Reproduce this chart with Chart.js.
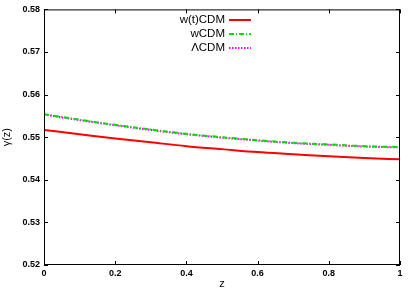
<!DOCTYPE html>
<html>
<head>
<meta charset="utf-8">
<script src="https://cdn.jsdelivr.net/npm/chart.js@4/dist/chart.umd.min.js"></script>
<style>
  html, body { margin: 0; padding: 0; background: #fff; }
  canvas { display: block; }
</style>
</head>
<body>
<canvas id="c" width="415" height="291"></canvas>
<script>
// values
const zValues = [0, 0.1, 0.2, 0.3, 0.4, 0.5, 0.6, 0.7, 0.8, 0.9, 1.0];
const gammaWtCDM = [0.5517, 0.5507, 0.5497, 0.5488, 0.5479, 0.5472, 0.5465, 0.5460, 0.5455, 0.5451, 0.5448];
const gammaWCDM  = [0.5554, 0.5541, 0.5529, 0.5518, 0.5508, 0.5500, 0.5493, 0.5487, 0.5483, 0.5479, 0.5477];
const gammaLCDM  = [0.5553, 0.5540, 0.5528, 0.5517, 0.5507, 0.5499, 0.5492, 0.5486, 0.5482, 0.5478, 0.5476];
const seriesNames = ['w(t)CDM', 'wCDM', '\u039BCDM'];
const xTicks = [0, 0.2, 0.4, 0.6, 0.8, 1];
const yTicks = [0.52, 0.53, 0.54, 0.55, 0.56, 0.57, 0.58];

const toPoints = ys => zValues.map((z, i) => ({ x: z, y: ys[i] }));
const fam = 'Liberation Sans, Arial, sans-serif';
const tickFont = { family: fam, size: 9, weight: 'bold' };

// inward ticks on all four sides, frame, and the gnuplot-style key
const frameTicks = {
    id: 'frameTicks',
    afterDraw(chart) {
        const ctx = chart.ctx;
        const a = chart.chartArea;
        const xs = chart.scales.x, ys = chart.scales.y;
        ctx.save();
        ctx.strokeStyle = '#000';
        ctx.lineWidth = 1;
        ctx.strokeRect(a.left + 0.5, a.top + 0.5, a.right - a.left - 1, a.bottom - a.top - 1);
        ctx.beginPath();
        xTicks.forEach(v => {
            const px = Math.round(xs.getPixelForValue(v)) + 0.5;
            ctx.moveTo(px, a.bottom); ctx.lineTo(px, a.bottom - 4);
            ctx.moveTo(px, a.top); ctx.lineTo(px, a.top + 4);
        });
        yTicks.forEach(v => {
            const py = Math.round(ys.getPixelForValue(v)) + 0.5;
            ctx.moveTo(a.left, py); ctx.lineTo(a.left + 4, py);
            ctx.moveTo(a.right, py); ctx.lineTo(a.right - 4, py);
        });
        ctx.stroke();

        ctx.font = '11.5px ' + fam;
        ctx.textAlign = 'right';
        ctx.textBaseline = 'middle';
        chart.data.datasets.forEach((ds, i) => {
            const y = 20 + i * 14;
            ctx.fillStyle = '#000';
            ctx.fillText(ds.label, 225, y);
            ctx.strokeStyle = ds.borderColor;
            ctx.lineWidth = ds.borderWidth;
            ctx.setLineDash(ds.borderDash || []);
            ctx.beginPath();
            ctx.moveTo(229, y); ctx.lineTo(251, y);
            ctx.stroke();
        });
        ctx.restore();
    }
};

const lineStyle = { borderWidth: 2, pointRadius: 0, cubicInterpolationMode: 'monotone' };

new Chart(document.getElementById('c'), {
    type: 'line',
    data: {
        datasets: [
            Object.assign({ label: seriesNames[0], data: toPoints(gammaWtCDM), borderColor: '#ff0000' }, lineStyle),
            Object.assign({ label: seriesNames[1], data: toPoints(gammaWCDM), borderColor: '#00dd00', borderDash: [5, 2, 1, 2] }, lineStyle),
            Object.assign({ label: seriesNames[2], data: toPoints(gammaLCDM), borderColor: '#ff00ff', borderDash: [1.5, 1.5] }, lineStyle)
        ]
    },
    options: {
        responsive: false,
        animation: false,
        layout: { padding: { left: 0, right: 15, top: 9, bottom: 0 } },
        plugins: { legend: { display: false }, tooltip: { enabled: false } },
        scales: {
            x: {
                type: 'linear', min: 0, max: 1,
                afterBuildTicks: s => { s.ticks = xTicks.map(v => ({ value: v })); },
                afterFit: s => { s.height = 26; },
                grid: { drawOnChartArea: false, drawTicks: false },
                border: { display: false },
                ticks: { color: '#000', font: tickFont, padding: 3, maxRotation: 0,
                         callback: v => String(+v.toFixed(1)) },
                title: { display: true, text: 'z', color: '#000', padding: 0,
                         font: { family: fam, size: 11 } }
            },
            y: {
                min: 0.52, max: 0.58,
                afterBuildTicks: s => { s.ticks = yTicks.map(v => ({ value: v })); },
                afterFit: s => { s.width = 44; },
                grid: { drawOnChartArea: false, drawTicks: false },
                border: { display: false },
                ticks: { color: '#000', font: tickFont, padding: 4,
                         callback: v => v.toFixed(2) },
                title: { display: true, text: '\u03B3(z)', color: '#000', padding: 0,
                         font: { family: fam, size: 11 } }
            }
        }
    },
    plugins: [frameTicks]
});
</script>
</body>
</html>
